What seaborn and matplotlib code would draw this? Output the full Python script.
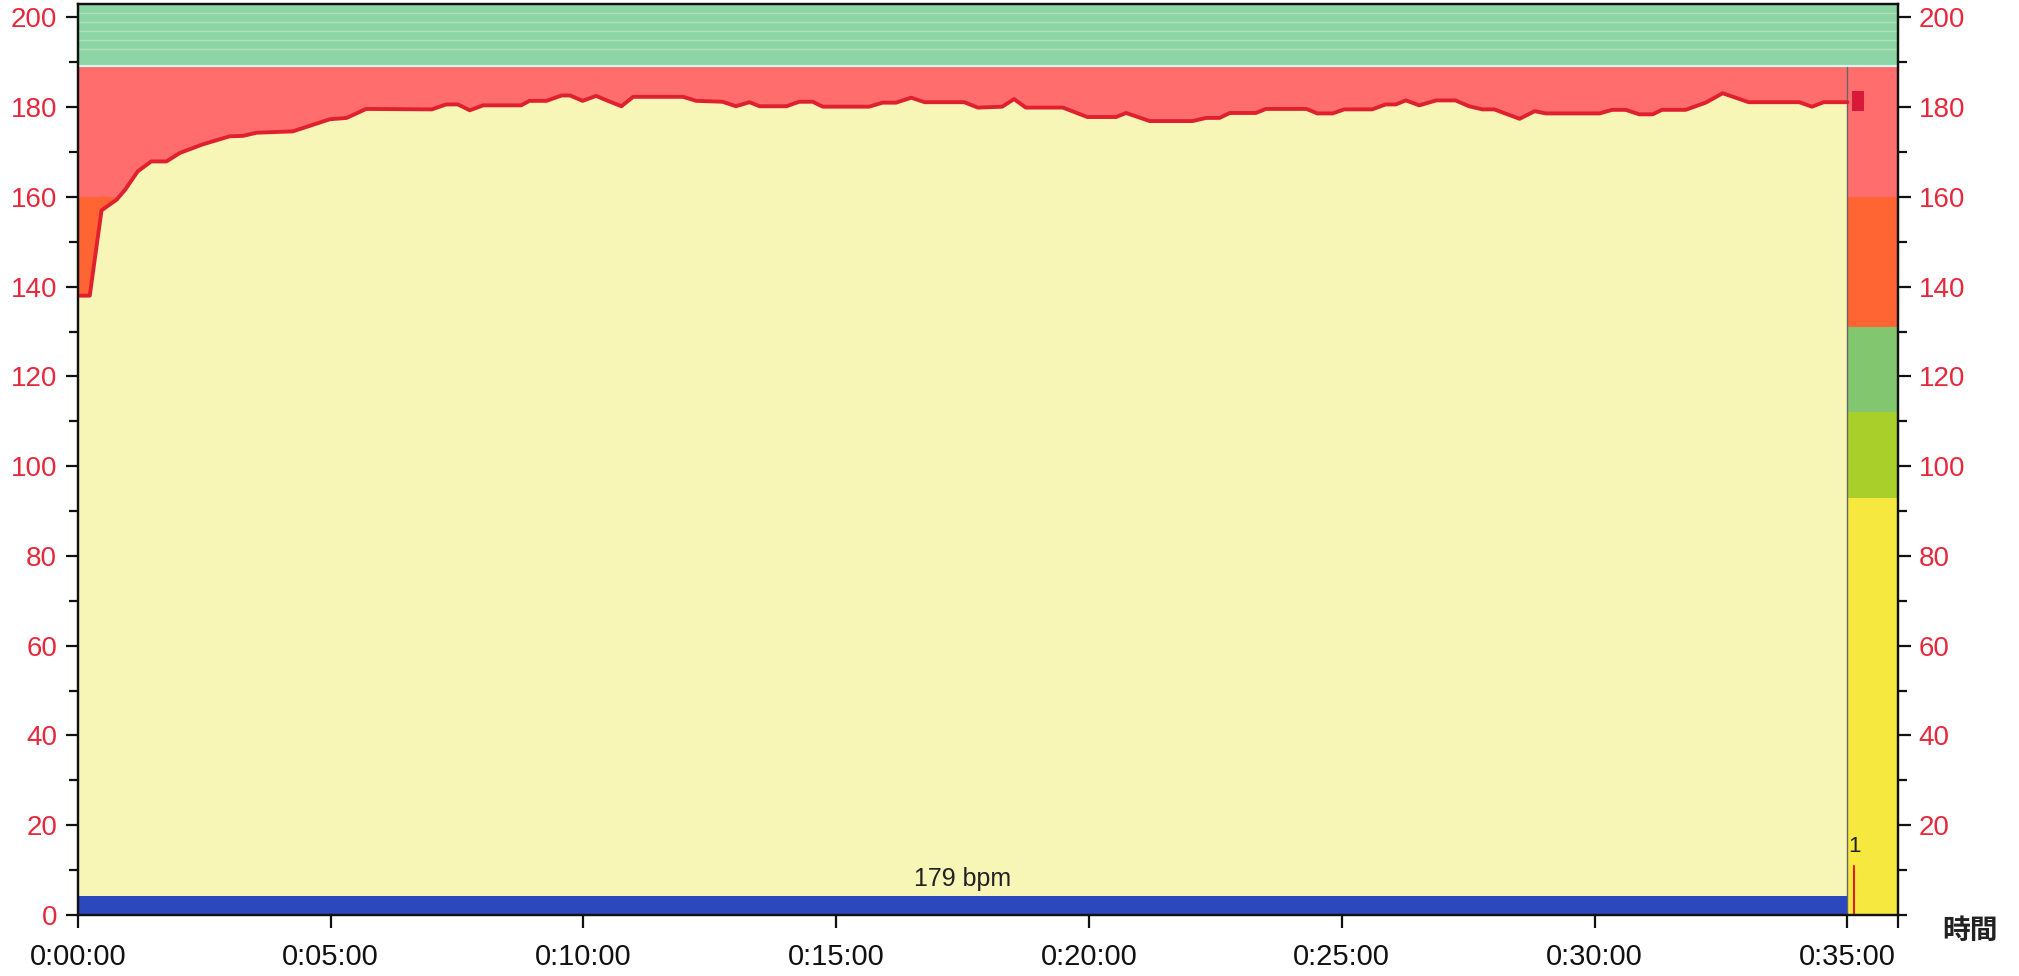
import numpy as np
import pandas as pd
import seaborn as sns
import matplotlib.pyplot as plt
from matplotlib.ticker import FuncFormatter, MultipleLocator

# heart rate trace (seconds, bpm)
hr_time = [0, 14, 28, 46, 56, 71, 87, 105, 121, 148, 180, 196, 212, 255, 299, 319, 342,
           420, 437, 451, 465, 481, 526, 536, 556, 574, 584, 599, 615, 629, 645, 659,
           718, 734, 765, 781, 797, 809, 841, 856, 872, 884, 939, 955, 971, 989, 1005,
           1052, 1068, 1097, 1111, 1125, 1169, 1198, 1232, 1244, 1272, 1323, 1339, 1355,
           1367, 1398, 1410, 1458, 1471, 1489, 1503, 1536, 1552, 1564, 1576, 1592, 1612,
           1635, 1651, 1667, 1681, 1711, 1729, 1742, 1806, 1821, 1837, 1853, 1869, 1880,
           1908, 1932, 1952, 1983, 2043, 2058, 2072, 2100]
hr_bpm = [138, 138, 157, 159.4, 161.6, 165.7, 167.9, 167.9, 169.8, 171.7, 173.5, 173.6,
          174.3, 174.6, 177.3, 177.6, 179.6, 179.5, 180.6, 180.6, 179.3, 180.4, 180.4,
          181.4, 181.4, 182.6, 182.6, 181.4, 182.5, 181.4, 180.2, 182.3, 182.3, 181.4,
          181.2, 180.2, 181.1, 180.2, 180.2, 181.2, 181.2, 180.1, 180.1, 181.0, 181.0,
          182.1, 181.1, 181.1, 179.9, 180.1, 181.8, 179.9, 179.9, 177.8, 177.8, 178.7,
          176.9, 176.9, 177.6, 177.6, 178.7, 178.7, 179.6, 179.6, 178.6, 178.6, 179.5,
          179.5, 180.6, 180.6, 181.5, 180.4, 181.5, 181.5, 180.2, 179.5, 179.5, 177.4,
          179.1, 178.6, 178.6, 179.4, 179.4, 178.4, 178.4, 179.4, 179.4, 181.0, 183.1,
          181.1, 181.1, 180.1, 181.1, 181.1]

# heart rate zones (lower, upper, colour)
zone_edges = [0, 93, 112, 131, 160, 189, 204]
zone_colors = ['#f6e83e', '#a9cf2a', '#82c76f', '#ff6432', '#ff6e6c', '#8dd5a4']

lap_start, lap_end = 0, 2100
lap_avg = 179
lap_label = '1'
lap_mark_time = 2108
max_marker_time = 2113
max_marker_bpm = (179.2, 183.6)

x_max = 2160
y_max = 203

df = pd.DataFrame({'time': hr_time, 'bpm': hr_bpm})

sns.set_style('ticks')
plt.rcParams['font.family'] = ['Liberation Sans', 'Noto Sans CJK JP', 'DejaVu Sans']

red_txt = '#e6283c'

fig = plt.figure(figsize=(20.19, 9.76), dpi=100)
ax = fig.add_axes([0.0386, 0.0625, 0.9014, 0.9335])

for lo, hi, c in zip(zone_edges[:-1], zone_edges[1:], zone_colors):
    ax.axhspan(lo, hi, color=c, lw=0, zorder=0)
# faint light lines in the top band
for v in [193, 195, 197, 199, 201]:
    ax.axhline(v, color='white', lw=1.0, alpha=0.3, zorder=0.5)
ax.axhline(189.2, color='#d8f4ee', lw=1.6, zorder=0.5)

ax.fill_between(df['time'], 0, df['bpm'], color='#f7f6b6', lw=0, zorder=1)
sns.lineplot(data=df, x='time', y='bpm', ax=ax, color='#e0202e', lw=2.8, zorder=3)

# end-of-lap line and lap band
ax.plot([lap_end, lap_end], [0, zone_edges[5]], color='#666666', lw=1.0, zorder=2)
ax.bar(lap_start, 4.3, width=lap_end - lap_start, align='edge', bottom=0,
       color='#2c48bd', lw=0, zorder=2)
ax.text((lap_start + lap_end) / 2, 5.3, f'{lap_avg} bpm', ha='center', va='bottom',
        fontsize=18, color='#222222', zorder=4)

# lap marker
ax.plot([lap_mark_time, lap_mark_time], [0, 11], color='#e02020', lw=1.5, zorder=4)
ax.text(lap_mark_time, 13, lap_label, ha='center', va='bottom', fontsize=16,
        color='#222222', zorder=4)
ax.bar(max_marker_time, max_marker_bpm[1] - max_marker_bpm[0], width=14,
       bottom=max_marker_bpm[0], color='#d81a3a', lw=0, zorder=4)

ax.set_xlim(0, x_max)
ax.set_ylim(0, y_max)


def hms(v, pos):
    v = int(round(v))
    return f'{v // 3600}:{(v % 3600) // 60:02d}:{v % 60:02d}'


ax.set_xticks(np.arange(0, lap_end + 1, 300))
ax.xaxis.set_major_formatter(FuncFormatter(hms))
ax.set_xticks([x_max], minor=True)
ax.set_yticks(np.arange(0, 201, 20))
ax.yaxis.set_minor_locator(MultipleLocator(10))
ax.set_xlabel('')
ax.set_ylabel('')

ax.tick_params(axis='x', which='both', direction='out', length=9, width=1.6,
               labelsize=21, pad=11, colors='#111111')
ax.tick_params(axis='y', which='major', direction='out', length=9, width=1.6,
               labelsize=20, pad=6, colors='#111111', labelcolor=red_txt)
ax.tick_params(axis='y', which='minor', direction='out', length=6.5, width=1.6,
               colors='#111111')

ax2 = ax.twinx()
ax2.set_ylim(0, y_max)
ax2.set_yticks(np.arange(20, 201, 20))
ax2.yaxis.set_minor_locator(MultipleLocator(10))
ax2.tick_params(axis='y', which='major', direction='out', length=9, width=1.6,
                labelsize=20, pad=6, colors='#111111', labelcolor=red_txt)
ax2.tick_params(axis='y', which='minor', direction='out', length=6.5, width=1.6,
                colors='#111111')

for a in (ax, ax2):
    for s in a.spines.values():
        s.set_color('#111111')
        s.set_linewidth(1.6)

fig.text(0.9755, 0.045, '時間', ha='center', va='center', fontsize=20,
         fontweight='bold', color='#222222')

fig.savefig('out.png', dpi=100)
